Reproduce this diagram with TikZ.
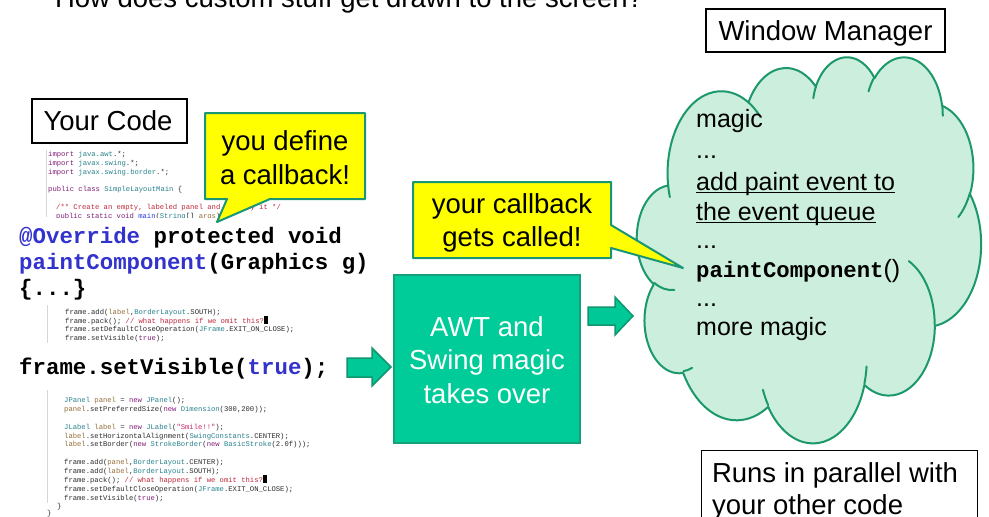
\documentclass[tikz,border=0pt]{standalone}
\usepackage{fontspec}
\setmainfont{Liberation Sans}
\newfontfamily\codefont{Liberation Mono}

\definecolor{calloutyellow}{RGB}{255,255,0}
\definecolor{calloutedge}{RGB}{24,150,118}
\definecolor{awtfill}{RGB}{0,204,153}
\definecolor{awtedge}{RGB}{20,160,120}
\definecolor{arrowfill}{RGB}{0,200,150}
\definecolor{arrowedge}{RGB}{18,150,110}
\definecolor{cloudfill}{RGB}{204,238,220}
\definecolor{cloudedge}{RGB}{28,152,108}
\definecolor{codeblue}{RGB}{50,50,205}
\definecolor{jkwc}{RGB}{130,30,120}
\definecolor{jtyc}{RGB}{40,130,140}
\definecolor{jcmc}{RGB}{190,40,60}
\definecolor{jvrc}{RGB}{150,110,60}
\definecolor{jmtc}{RGB}{40,60,220}
\definecolor{jstc}{RGB}{200,40,110}
\definecolor{codegray}{RGB}{45,45,45}
\definecolor{guidegray}{RGB}{215,215,215}

% syntax colouring for the small editor listings
\newcommand\jkw[1]{\textcolor{jkwc}{#1}}
\newcommand\jty[1]{\textcolor{jtyc}{#1}}
\newcommand\jcm[1]{\textcolor{jcmc}{#1}}
\newcommand\jvr[1]{\textcolor{jvrc}{#1}}
\newcommand\jmt[1]{\textcolor{jmtc}{#1}}
\newcommand\jst[1]{\textcolor{jstc}{#1}}
\newcommand\jcur{\textcolor{black}{\rule[-1pt]{3.6pt}{7.6pt}}}
% one line of a listing: name, baseline y, x, text
\newcommand\cdl[4]{\node[codeline] (#1) at (#3,#2) {#4};}

\tikzset{
  txt/.style={inner sep=0pt, outer sep=0pt, font=\fontsize{27.5}{33}\selectfont},
  codeline/.style={anchor=base west, inner sep=0pt, text=codegray,
    font=\codefont\fontsize{7.2}{8.8}\selectfont},
  bigcode/.style={anchor=base west, inner sep=0pt,
    font=\codefont\bfseries\fontsize{22.4}{26}\selectfont},
  cloudtxt/.style={anchor=base west, inner sep=0pt, font=\fontsize{25}{30}\selectfont},
  awttxt/.style={txt, anchor=base, text=white},
  framebox/.style={draw=black, line width=1.1pt, fill=white, inner sep=0pt},
  calloutshape/.style={fill=calloutyellow, draw=calloutedge, line width=2pt, line join=round},
  blockarrow/.style={fill=arrowfill, draw=arrowedge, line width=1.5pt, line join=miter},
  guide/.style={draw=guidegray, line width=0.8pt},
  uline/.style={draw=black, line width=1.3pt},
  cloudshape/.style={fill=cloudfill, draw=cloudedge, line width=2pt, line join=round},
  cloudline/.style={draw=cloudedge, line width=2pt, line cap=round},
  % elliptical arc given by radii, start angle and sweep measured as ray angles
  carc/.style n args={4}{
    /utils/exec={%
      \pgfmathsetmacro\cldS{atan2((#1)*sin(#3),(#2)*cos(#3))}%
      \pgfmathsetmacro\cldE{atan2((#1)*sin((#3)+(#4)),(#2)*cos((#3)+(#4)))}%
      \pgfmathsetmacro\cldD{mod(\cldE-\cldS+720,360)}},
    insert path={arc[x radius=#1, y radius=#2, start angle=\cldS, delta angle=\cldD]}}
}

\begin{document}
\begin{tikzpicture}[x=1pt,y=-1pt]
\useasboundingbox (0,0) rectangle (989,517);
\clip (0,0) rectangle (989,517);
\fill[white] (0,0) rectangle (989,517);

% heading
\node[txt, anchor=base west] (title) at (55,7.5) {How does custom stuff get drawn to the screen?};

% ---------- left column: the code ----------
\node[framebox, minimum width=155pt, minimum height=44pt] (yourcode) at (109.5,121) {};
\node[txt, anchor=base] (yourcodetxt) at (108,130.5) {Your Code};

\draw[guide] (46,150) -- (46,217);
\begin{scope}
  \clip (40,140) rectangle (420,217);
  \cdl{imp1}{156}{48}{\jkw{import} \jty{java.awt}.*;}
  \cdl{imp2}{165}{48}{\jkw{import} \jty{javax.swing}.*;}
  \cdl{imp3}{174}{48}{\jkw{import} \jty{javax.swing.border}.*;}
  \cdl{cls}{191}{48}{\jkw{public class} \jty{SimpleLayoutMain} \{}
  \cdl{doc}{209}{56}{\jcm{/** Create an empty, labeled panel and display it */}}
  \cdl{mainln}{218}{56}{\jkw{public static void} \jmt{main}(\jty{String}[] \jvr{args}) \{}
\end{scope}

\node[bigcode] (override) at (19,243) {\textcolor{codeblue}{@Override} protected void};
\node[bigcode] (paintc) at (19,269) {\textcolor{codeblue}{paintComponent}(Graphics g)};
\node[bigcode] (body) at (19,295) {\{...\}};

\draw[guide] (47,305) -- (47,343);
\cdl{sa}{314}{65}{frame.add(\jvr{label},\jty{BorderLayout}.SOUTH);}
\cdl{sb}{323}{65}{frame.pack(); \jcm{// what happens if we omit this?}\jcur}
\cdl{sc}{331}{65}{frame.setDefaultCloseOperation(\jty{JFrame}.EXIT\_ON\_CLOSE);}
\cdl{sd}{340}{65}{frame.setVisible(\jkw{true});}

\node[bigcode] (setvis) at (19,374) {frame.setVisible(\textcolor{codeblue}{true});};

\draw[guide] (47,390) -- (47,503);
\cdl{pn1}{402}{64}{\jty{JPanel} \jvr{panel} = \jkw{new} \jty{JPanel}();}
\cdl{pn2}{411}{64}{\jvr{panel}.setPreferredSize(\jkw{new} \jty{Dimension}(300,200));}
\cdl{lb1}{429}{64}{\jty{JLabel} \jvr{label} = \jkw{new} \jty{JLabel}(\jst{"Smile!!"});}
\cdl{lb2}{438}{64}{\jvr{label}.setHorizontalAlignment(\jty{SwingConstants}.CENTER);}
\cdl{lb3}{446}{64}{\jvr{label}.setBorder(\jkw{new} \jty{StrokeBorder}(\jkw{new} \jty{BasicStroke}(2.0f)));}
\cdl{fr1}{464}{64}{frame.add(\jvr{panel},\jty{BorderLayout}.CENTER);}
\cdl{fr2}{473}{64}{frame.add(\jvr{label},\jty{BorderLayout}.SOUTH);}
\cdl{fr3}{482}{64}{frame.pack(); \jcm{// what happens if we omit this?}\jcur}
\cdl{fr4}{491}{64}{frame.setDefaultCloseOperation(\jty{JFrame}.EXIT\_ON\_CLOSE);}
\cdl{fr5}{500}{64}{frame.setVisible(\jkw{true});}
\cdl{cl1}{508}{57}{\}}
\cdl{cl2}{515}{47}{\}}

% callout: you define a callback
\path[calloutshape] (205,113) -- (365,113) -- (365,199) -- (270,199) -- (217,222)
  -- (227,199) -- (205,199) -- cycle;
\node[txt, anchor=base] (defa) at (285,150) {you define};
\node[txt, anchor=base] (defb) at (285,184) {a callback!};

% ---------- middle: the toolkit ----------
\path[blockarrow] (347,358) -- (372,358) -- (372,348) -- (391,367) -- (372,386)
  -- (372,377) -- (347,377) -- cycle;
\node[fill=awtfill, draw=awtedge, line width=1.5pt, minimum width=186pt,
  minimum height=168pt, inner sep=0pt] (awt) at (487,359) {};
\node[awttxt] (awta) at (487,336) {AWT and};
\node[awttxt] (awtb) at (487,369) {Swing magic};
\node[awttxt] (awtc) at (487,403) {takes over};
\path[blockarrow] (588,307) -- (615,307) -- (615,297) -- (633,316) -- (615,335)
  -- (615,325) -- (588,325) -- cycle;

% ---------- right column: the window manager ----------
\node[framebox, minimum width=239pt, minimum height=43pt] (wm) at (825.5,30.5) {};
\node[txt, anchor=base] (wmtxt) at (825.5,40.7) {Window Manager};

\begin{scope}[shift={(637,56)}, x=0.79630pt, y=-0.89352pt]
  \path[cloudshape] (39.00,143.70)
    [carc={67.53}{91.90}{-190.4875}{123.7805}]
    [carc={53.33}{72.67}{-144.1024}{89.9452}]
    [carc={43.65}{59.45}{-145.8079}{99.7230}]
    [carc={48.57}{65.95}{-130.9861}{117.2417}]
    [carc={53.33}{72.73}{-78.7089}{109.0269}]
    [carc={67.75}{92.20}{-46.2673}{130.2690}]
    [carc={57.85}{78.67}{0.6250}{114.0333}]
    [carc={67.52}{92.15}{22.4516}{115.1726}]
    [carc={77.20}{105.43}{66.2426}{75.7110}]
    [carc={43.60}{59.18}{-274.9421}{146.7356}]
    [carc={43.45}{59.45}{-246.8285}{152.5189}]
    -- cycle;
  \path[cloudline]
    (46.93,261.77) [carc={43.45}{59.45}{86.7420}{26.4295}]
    (69.28,348.99) [carc={43.60}{59.18}{73.6105}{11.4475}]
    (164.78,390.90) [carc={67.52}{92.15}{137.6242}{14.0811}]
    (288.27,347.51) [carc={67.52}{92.15}{6.4533}{15.9984}]
    (341.29,229.54) [carc={57.85}{78.67}{-70.2924}{70.9174}]
    (417.98,153.54) [carc={53.33}{72.73}{30.3180}{27.7515}]
    (383.24,54.26) [carc={48.57}{65.95}{-13.7443}{14.8589}]
    (290.78,39.52) [carc={48.57}{65.95}{-149.1815}{18.1954}]
    (221.41,47.20) [carc={43.65}{59.45}{-163.4943}{17.6864}]
    (140.00,51.92) [carc={67.53}{91.90}{-66.7070}{12.3194}]
    (41.27,157.89) [carc={67.53}{91.90}{157.6544}{11.8582}];
\end{scope}

% callout: your callback gets called
\path[calloutshape] (413,182) -- (611,182) -- (611,225) -- (683,268) -- (611,248)
  -- (611,258) -- (413,258) -- cycle;
\node[txt, anchor=base] (calla) at (512,213) {your callback};
\node[txt, anchor=base] (callb) at (512,246) {gets called!};

% what happens inside the window manager
\node[cloudtxt] (m1) at (696,127.7) {magic};
\node[cloudtxt] (m2) at (696,158) {...};
\node[cloudtxt] (m3) at (696,190.5) {add paint event to};
\node[cloudtxt] (m4) at (696,220) {the event queue};
\node[cloudtxt] (m5) at (696,248.5) {...};
\node[cloudtxt] (m6) at (696,277) {{\codefont\bfseries\fontsize{22.3}{26}\selectfont paintComponent}()};
\node[cloudtxt] (m7) at (696,306) {...};
\node[cloudtxt] (m8) at (696,335) {more magic};
\draw[uline] ([yshift=-2.2pt]m3.base west) -- ([yshift=-2.2pt]m3.base east);
\draw[uline] ([yshift=-2.2pt]m4.base west) -- ([yshift=-2.2pt]m4.base east);

\node[framebox, anchor=north west, minimum width=276pt, minimum height=90pt] (runs) at (701,450) {};
\node[txt, anchor=base west] (runsa) at (712,482) {Runs in parallel with};
\node[txt, anchor=base west] (runsb) at (712,514) {your other code};
\end{tikzpicture}
\end{document}
